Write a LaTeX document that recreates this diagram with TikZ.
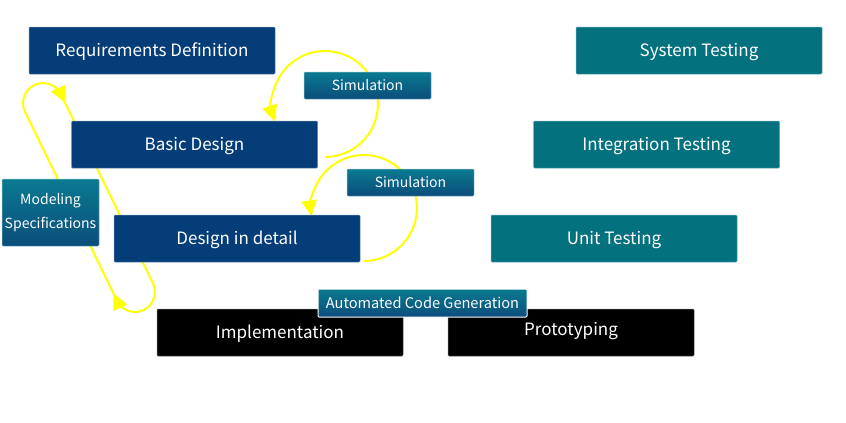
\documentclass[tikz,border=0pt]{standalone}
\usepackage{fontspec}
\setmainfont{Noto Sans CJK JP}
\usetikzlibrary{arrows.meta,calc}
\definecolor{dblue}{HTML}{043D78}
\definecolor{teal2}{HTML}{04717F}
\definecolor{gtop}{HTML}{0A7A90}
\definecolor{gbot}{HTML}{0B4D7C}
\definecolor{yel}{HTML}{FFFF00}
\tikzset{
  x=1pt, y=1pt,
  bigbox/.style={rectangle, rounded corners=1pt, minimum width=246pt, minimum height=47pt,
    inner sep=0pt, text=white, font=\fontsize{17}{19}\selectfont, text height=15pt, text depth=4pt,
    draw=#1!60!white, line width=0.5pt, fill=#1},
  smallbox/.style={rectangle, rounded corners=1pt, inner sep=0pt, text=white,
    font=\fontsize{14}{24}\selectfont, top color=gtop, bottom color=gbot, draw=gtop!50!white, line width=0.5pt, align=center},
  yarrow/.style={draw=yel, line width=2pt, -{Triangle[length=16pt,width=15pt]}},
}
\begin{document}
\begin{tikzpicture}
\useasboundingbox (0,0) rectangle (846,-423);
% yellow loops (behind boxes)
\coordinate (c1) at (325,-104);
\coordinate (c2) at (364,-208);
\draw[yarrow] ($(c1)+(-90:53)$) arc[start angle=-90, end angle=199, radius=53];
\draw[yarrow] ($(c2)+(-90:53)$) arc[start angle=-90, end angle=189, radius=53];
% modeling loop
\coordinate (rtop) at (61.1,-94.5);
\coordinate (rbot) at (153.1,-283.5);
\coordinate (lbot) at (116.9,-300.5);
\coordinate (ltop) at (24.9,-111.5);
\coordinate (tipb) at ($(lbot)+(115:8)$);
\coordinate (tipt) at ($(rtop)+(-65:9)$);
\draw[yarrow] (rtop) -- (rbot) arc[start angle=25, end angle=-155, radius=20] -- (tipb);
\draw[yarrow] (lbot) -- (ltop) arc[start angle=205, end angle=25, radius=20] -- (tipt);
% boxes
\node[bigbox=dblue] (req) at (152,-50.5) {Requirements Definition};
\node[bigbox=dblue] (basic) at (194.5,-144.5) {Basic Design};
\node[bigbox=dblue] (detail) at (237,-238.5) {Design in detail};
\node[bigbox=black] (impl) at (280,-332.5) {Implementation};
\node[bigbox=black] (proto) at (571,-332.5) {\raisebox{2.5pt}{Prototyping}};
\node[bigbox=teal2] (sys) at (699,-50.5) {System Testing};
\node[bigbox=teal2] (integ) at (656.5,-144.5) {Integration Testing};
\node[bigbox=teal2] (unit) at (614,-238.5) {Unit Testing};
\node[smallbox, minimum width=127pt, minimum height=27pt] (sim1) at (367.5,-85.5) {Simulation};
\node[smallbox, minimum width=127pt, minimum height=27pt] (sim2) at (410.5,-182.5) {Simulation};
\node[smallbox, minimum width=97pt, minimum height=67pt] (model) at (50.5,-212.5) {Modeling\\Specifications};
\node[smallbox, minimum width=209pt, minimum height=28pt, draw=white, line width=1pt, font=\fontsize{14.6}{18}\selectfont] (acg) at (422.5,-303) {Automated Code Generation};
\end{tikzpicture}
\end{document}
